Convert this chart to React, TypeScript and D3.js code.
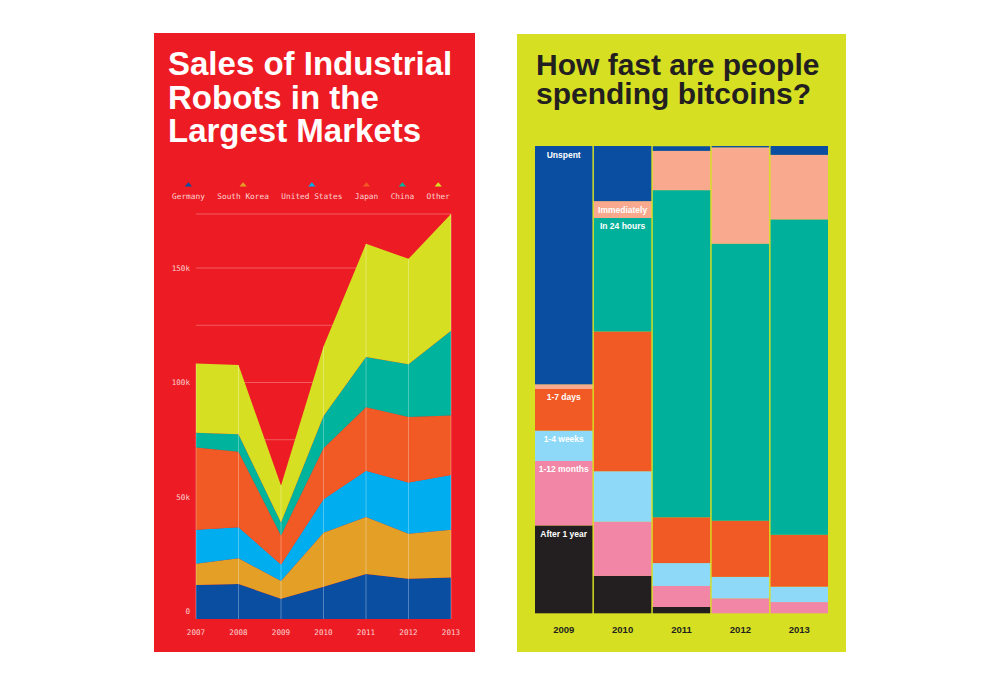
import React from 'react';
import * as d3 from 'd3';

// ---------- Left chart: Sales of industrial robots (thousands of units) ----------
const robotYears = [2007, 2008, 2009, 2010, 2011, 2012, 2013];
const robotSeries = ['Germany', 'South Korea', 'United States', 'Japan', 'China', 'Other'];
const germany = [11.6, 12.0, 5.5, 10.8, 16.4, 14.3, 14.8];
const southKorea = [9.2, 11.2, 7.8, 23.6, 24.9, 19.6, 20.9];
const unitedStates = [14.9, 13.6, 7.2, 14.6, 20.1, 22.4, 23.9];
const japan = [35.9, 33.0, 12.6, 22.3, 27.8, 28.6, 26.0];
const china = [6.4, 7.6, 5.7, 14.1, 21.9, 23.1, 37.0];
const other = [30.3, 30.2, 16.2, 30.3, 49.5, 46.0, 51.0];
const robotColors = ['#0A4EA2', '#E39F26', '#00AEEF', '#F15A24', '#00B39D', '#D7DF23'];
const robotTicks = [0, 50, 100, 150];
const robotTickLabels = ['0', '50k', '100k', '150k'];
const robotGrid = [25, 50, 75, 100, 125, 150];

// ---------- Right chart: how fast bitcoins are spent (% of coins) ----------
const btcYears = ['2009', '2010', '2011', '2012', '2013'];
const btcSeries = ['After 1 year', '1-12 months', '1-4 weeks', '1-7 days', 'In 24 hours', 'Immediately', 'Unspent'];
const after1Year = [18.8, 8.0, 1.35, 0, 0];
const months1to12 = [13.8, 11.6, 4.5, 3.2, 2.4];
const weeks1to4 = [6.5, 10.8, 4.9, 4.6, 3.3];
const days1to7 = [8.9, 29.9, 9.8, 12.0, 11.1];
const in24Hours = [0, 24.3, 70.0, 59.3, 67.5];
const immediately = [1.0, 3.6, 8.4, 20.6, 13.8];
const unspent = [51.0, 11.8, 1.0, 0.3, 1.9];
const btcColors = ['#231F20', '#F186A6', '#8ED8F8', '#F15A24', '#00B09B', '#F9A98E', '#0A4EA2'];
const btcLabelYear = ['2009', '2009', '2009', '2009', '2010', '2010', '2009'];

const RED = '#ED1C24';
const LIME = '#D7DF23';
const INK = '#231F20';
const MONO = '"DejaVu Sans Mono", monospace';
const SANS = '"Liberation Sans", Arial, sans-serif';

export default function App() {
  // ----- left chart scales -----
  const robotValues = [germany, southKorea, unitedStates, japan, china, other];
  const rows = robotYears.map((yr, i) => {
    const r: any = { year: yr };
    robotSeries.forEach((s, k) => (r[s] = robotValues[k][i]));
    return r;
  });
  const stacked = d3.stack().keys(robotSeries)(rows);
  const totals = rows.map((r: any) => d3.sum(robotSeries, (s) => r[s]));
  const maxTotal = d3.max(totals) as number;

  const x = d3.scaleLinear().domain(d3.extent(robotYears) as [number, number]).range([196, 451]);
  const y = d3.scaleLinear().domain([-3.3, maxTotal]).range([619, 214]);

  const area = (layerIndex: number) =>
    d3
      .area<any>()
      .x((d) => x(d.data.year))
      .y0((d) => (layerIndex === 0 ? y.range()[0] : y(d[0])))
      .y1((d) => y(d[1]));

  // legend layout (monospace)
  const legendFont = 7.8;
  const charW = legendFont * 0.602;
  let lx = 172;
  const legendItems = robotSeries.map((s, i) => {
    const w = s.length * charW;
    const item = { name: s, x: lx, w, color: robotColors[i] };
    lx += w + 12.4;
    return item;
  });

  // ----- right chart scales -----
  const btcValues = [after1Year, months1to12, weeks1to4, days1to7, in24Hours, immediately, unspent];
  const btcRows = btcYears.map((yr, i) => {
    const r: any = { year: yr };
    btcSeries.forEach((s, k) => (r[s] = btcValues[k][i]));
    return r;
  });
  const btcStack = d3.stack().keys(btcSeries)(btcRows);
  const bx = d3.scaleBand().domain(btcYears).range([535, 828]).paddingInner(0.025).paddingOuter(0);
  const by = d3.scaleLinear().domain([0, 100]).range([613.3, 146]);

  return (
    <svg
      width={1000}
      height={685}
      style={{ position: 'absolute', left: 0, top: 0, display: 'block', background: '#fff' }}
    >
      {/* ================= LEFT PANEL ================= */}
      <rect x={154} y={33} width={321} height={619} fill={RED} />
      <g fill="#fff" fontFamily={SANS} fontWeight={700} fontSize={33}>
        <text x={168} y={75}>Sales of Industrial</text>
        <text x={168} y={108.5}>Robots in the</text>
        <text x={168} y={142}>Largest Markets</text>
      </g>

      {/* legend */}
      <g fontFamily={MONO} fontSize={legendFont} fill="#FAD3D3">
        {legendItems.map((it) => {
          const cx = it.x + it.w / 2;
          return (
            <g key={it.name}>
              <path d={`M${cx - 3.6},186.5 L${cx},182.3 L${cx + 3.6},186.5 Z`} fill={it.color} />
              <text x={it.x} y={198.5}>{it.name}</text>
            </g>
          );
        })}
      </g>

      {/* horizontal grid */}
      <g stroke="#fff" strokeOpacity={0.28} strokeWidth={1}>
        {robotGrid.map((g) => (
          <line key={g} x1={x.range()[0]} x2={x.range()[1]} y1={y(g)} y2={y(g)} />
        ))}
        <line x1={x.range()[0]} x2={x.range()[1]} y1={y(maxTotal)} y2={y(maxTotal)} />
      </g>

      {/* stacked areas */}
      {stacked.map((layer, i) => (
        <path key={layer.key} d={area(i)(layer as any) as string} fill={robotColors[i]} />
      ))}

      {/* vertical year lines on top of areas */}
      <g stroke="#fff" strokeOpacity={0.3} strokeWidth={1}>
        {robotYears.map((yr, i) => (
          <line key={yr} x1={x(yr)} x2={x(yr)} y1={y(totals[i])} y2={y.range()[0]} />
        ))}
      </g>

      {/* y tick labels */}
      <g fontFamily={MONO} fontSize={7.6} fill="#FAD3D3" textAnchor="end">
        {robotTicks.map((t, i) => (
          <text key={t} x={190} y={y(t)} dy="0.35em">
            {robotTickLabels[i]}
          </text>
        ))}
      </g>
      {/* x tick labels */}
      <g fontFamily={MONO} fontSize={7.6} fill="#FAD3D3" textAnchor="middle">
        {robotYears.map((yr) => (
          <text key={yr} x={x(yr)} y={634.5}>
            {yr}
          </text>
        ))}
      </g>

      {/* ================= RIGHT PANEL ================= */}
      <rect x={517} y={34} width={329} height={618} fill={LIME} />
      <g fill={INK} fontFamily={SANS} fontWeight={700} fontSize={30}>
        <text x={536} y={75}>How fast are people</text>
        <text x={536} y={104}>spending bitcoins?</text>
      </g>

      {btcStack.map((layer, i) => (
        <g key={layer.key} fill={btcColors[i]}>
          {layer.map((d: any) => (
            <rect
              key={d.data.year}
              x={bx(d.data.year)}
              width={bx.bandwidth()}
              y={by(d[1])}
              height={Math.max(0, by(d[0]) - by(d[1]))}
            />
          ))}
        </g>
      ))}

      {/* segment labels */}
      <g fontFamily={SANS} fontWeight={700} fontSize={8.5} fill="#fff" textAnchor="middle">
        {btcStack.map((layer, i) => {
          const yr = btcLabelYear[i];
          const d: any = layer[btcYears.indexOf(yr)];
          return (
            <text key={layer.key} x={(bx(yr) as number) + bx.bandwidth() / 2} y={by(d[1]) + 11.5}>
              {btcSeries[i]}
            </text>
          );
        })}
      </g>

      {/* year labels */}
      <g fontFamily={SANS} fontWeight={700} fontSize={9.5} fill={INK} textAnchor="middle">
        {btcYears.map((yr) => (
          <text key={yr} x={(bx(yr) as number) + bx.bandwidth() / 2} y={632.5}>
            {yr}
          </text>
        ))}
      </g>
    </svg>
  );
}
